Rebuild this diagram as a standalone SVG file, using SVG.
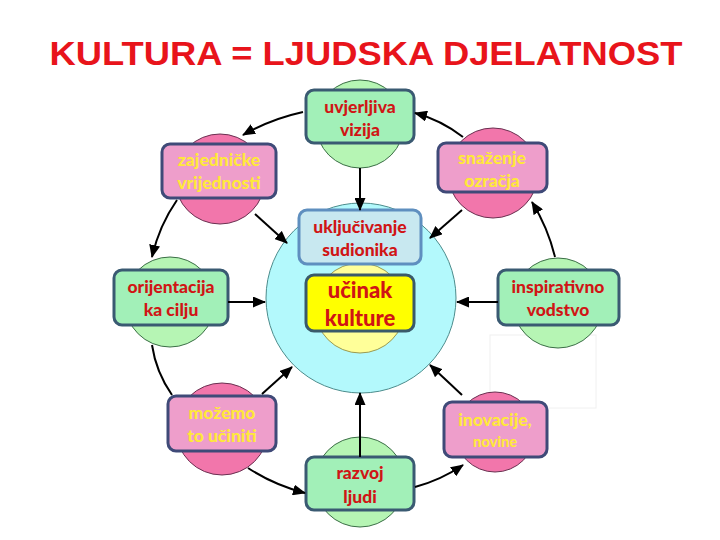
<svg xmlns="http://www.w3.org/2000/svg" width="720" height="540" viewBox="0 0 720 540">
<style>
.gc{fill:#b6f5b4;stroke:#3a6e45;stroke-width:1}
.pc{fill:#f276ab;stroke:#6a2f50;stroke-width:1}
.gb{fill:#a2f0b8;stroke:#3a5a72;stroke-width:3}
.pb{fill:#ee9ecb;stroke:#3f4a78;stroke-width:3}
.rt{font-family:Lato,"Open Sans",sans-serif;font-weight:900;font-size:17.5px;fill:#d01515;text-anchor:middle}
.yt{font-family:Lato,"Open Sans",sans-serif;font-weight:900;font-size:17.5px;fill:#ffe83a;text-anchor:middle}
.cn{fill:none;stroke:#000;stroke-width:2;marker-end:url(#ah)}
</style>
<defs>
<marker id="ah" markerUnits="userSpaceOnUse" markerWidth="13" markerHeight="11" refX="12" refY="5.5" orient="auto">
<path d="M0,0 L13,5.5 L0,11 z" fill="#000"/>
</marker>
</defs>
<rect width="720" height="540" fill="#fff"/>
<text x="366" y="65" font-family="'Liberation Sans',Arial,sans-serif" font-weight="bold" font-size="33" fill="#e8141b" text-anchor="middle" textLength="633" lengthAdjust="spacingAndGlyphs">KULTURA = LJUDSKA DJELATNOST</text>
<rect x="490" y="335" width="106" height="73" fill="none" stroke="#f0f0f0" stroke-width="1"/>

<g id="center">
<circle cx="361" cy="298" r="95" fill="#b3f9fc" stroke="#4d8c8c" stroke-width="1"/>
<circle cx="360" cy="308" r="45" fill="#ffff99" stroke="#9a9a50" stroke-width="1"/>
</g>
<g id="ukljucivanje">
<rect x="299" y="210" width="122" height="54" rx="8" fill="#c8e8f0" stroke="#5f8fbf" stroke-width="3"/>
<text class="rt" x="360" y="233">uključivanje</text>
<text class="rt" x="360" y="256">sudionika</text>
</g>
<g id="ucinak">
<rect x="306" y="275" width="108" height="56" rx="8" fill="#ffff00" stroke="#3a5a6a" stroke-width="3"/>
<text class="rt" x="360" y="298" style="font-size:22px">učinak</text>
<text class="rt" x="360" y="326" style="font-size:22px">kulture</text>
</g>

<g id="uvjerljiva">
<circle class="gc" cx="360" cy="124" r="44"/>
<rect class="gb" x="306" y="90" width="108" height="53" rx="8"/>
<text class="rt" x="360" y="113">uvjerljiva</text>
<text class="rt" x="360" y="136">vizija</text>
</g>
<g id="zajednicke">
<circle class="pc" cx="220" cy="179" r="45"/>
<rect class="pb" x="162" y="144" width="114" height="54" rx="8"/>
<text class="yt" x="219" y="166">zajedničke</text>
<text class="yt" x="219" y="189">vrijednosti</text>
</g>
<g id="snazenje">
<circle class="pc" cx="493" cy="173" r="45"/>
<rect class="pb" x="438" y="143" width="109" height="49" rx="8"/>
<text class="yt" x="492" y="164">snaženje</text>
<text class="yt" x="492" y="187">ozračja</text>
</g>
<g id="orijentacija">
<circle class="gc" cx="170" cy="302" r="45"/>
<rect class="gb" x="114" y="270" width="114" height="55" rx="8"/>
<text class="rt" x="171" y="293">orijentacija</text>
<text class="rt" x="171" y="316">ka cilju</text>
</g>
<g id="inspirativno">
<circle class="gc" cx="558" cy="303" r="45"/>
<rect class="gb" x="498" y="270" width="121" height="55" rx="8"/>
<text class="rt" x="558" y="293">inspirativno</text>
<text class="rt" x="558" y="316">vodstvo</text>
</g>
<g id="mozemo">
<circle class="pc" cx="222" cy="429" r="46"/>
<rect class="pb" x="168" y="396" width="108" height="55" rx="8"/>
<text class="yt" x="222" y="419">možemo</text>
<text class="yt" x="222" y="442">to učiniti</text>
</g>
<g id="inovacije">
<circle class="pc" cx="495" cy="432" r="40"/>
<rect class="pb" x="444" y="402" width="103" height="55" rx="8"/>
<text class="yt" x="495" y="426">inovacije,</text>
<text class="yt" x="495" y="447" style="font-size:14.5px">novine</text>
</g>
<g id="razvoj">
<circle class="gc" cx="360" cy="482" r="45"/>
<rect class="gb" x="306" y="457" width="108" height="53" rx="8"/>
<text class="rt" x="360" y="479">razvoj</text>
<text class="rt" x="360" y="503">ljudi</text>
</g>

<g id="connectors">
<path class="cn" d="M303,112 Q271,119 243,135"/>
<path class="cn" d="M463,137 Q441,120 415,113"/>
<path class="cn" d="M177,200 Q159,226 152,257"/>
<path class="cn" d="M555,257 Q548,228 532,202"/>
<path d="M152,345 Q156,372 172,395" fill="none" stroke="#000" stroke-width="2"/>
<path class="cn" d="M248,468 Q274,485 305,493"/>
<path class="cn" d="M415,487 Q441,480 463,465"/>
<path class="cn" d="M360,168 L360,210"/>
<path class="cn" d="M255,214 L287,243"/>
<path class="cn" d="M462,210 L430,238"/>
<path class="cn" d="M228,302 L265,302"/>
<path class="cn" d="M498,302 L457,302"/>
<path class="cn" d="M262,394 L292,367"/>
<path class="cn" d="M462,395 L430,365"/>
<path class="cn" d="M360,457 L360,393"/>
</g>
</svg>
